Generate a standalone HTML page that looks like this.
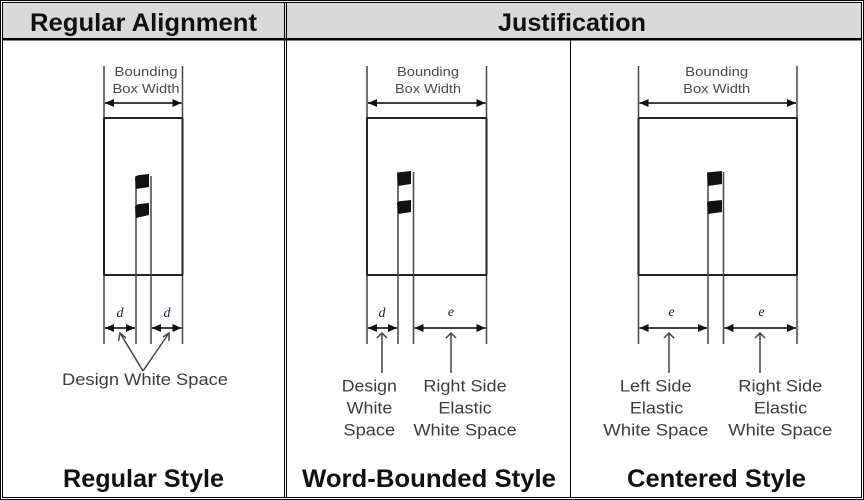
<!DOCTYPE html>
<html>
<head>
<meta charset="utf-8">
<style>
html,body{margin:0;padding:0;background:#fff;}
svg{display:block;}
.h{font-family:"Liberation Sans",Arial,sans-serif;font-weight:bold;font-size:25px;fill:#111;}
.b{font-family:"Liberation Sans",Arial,sans-serif;font-size:13px;fill:#4a4a4a;}
.l{font-family:"Liberation Sans",Arial,sans-serif;font-size:16.5px;fill:#3c3c3c;}
.v{font-family:"Liberation Serif","Times New Roman",serif;font-style:italic;font-size:14px;fill:#1a1a3a;}
.bd{stroke:#444;stroke-width:1.5;fill:none;}
.bx{stroke:#222;stroke-width:2;fill:none;}
.ar{stroke:#222;stroke-width:1.8;fill:none;}
.pt{stroke:#444;stroke-width:1.5;fill:none;}
</style>
</head>
<body>
<svg width="864" height="500" viewBox="0 0 864 500" xmlns="http://www.w3.org/2000/svg">
<defs>
  <marker id="ah" viewBox="0 0 10 10" refX="10" refY="5" markerWidth="9" markerHeight="8" orient="auto-start-reverse" markerUnits="userSpaceOnUse" preserveAspectRatio="none">
    <path d="M0,0 L10,5 L0,10 z" fill="#111"/>
  </marker>
</defs>
<rect x="0" y="0" width="864" height="500" fill="#fff"/>
<!-- header background -->
<rect x="3" y="3" width="858" height="35" fill="#d9d9d9"/>
<!-- outer double border -->
<rect x="0.5" y="0.5" width="863" height="499" fill="none" stroke="#000" stroke-width="1"/>
<rect x="2.5" y="2.5" width="859" height="495" fill="none" stroke="#000" stroke-width="1"/>
<!-- header bottom -->
<rect x="2" y="38" width="860" height="2.5" fill="#000"/>
<!-- column dividers -->
<line x1="284.5" y1="2" x2="284.5" y2="498" stroke="#000" stroke-width="1"/>
<line x1="286.5" y1="2" x2="286.5" y2="498" stroke="#000" stroke-width="1"/>
<line x1="570.5" y1="40" x2="570.5" y2="498" stroke="#000" stroke-width="1"/>

<!-- headers -->
<text class="h" x="143.5" y="31" text-anchor="middle" textLength="227" lengthAdjust="spacingAndGlyphs">Regular Alignment</text>
<text class="h" x="572" y="31" text-anchor="middle" textLength="148" lengthAdjust="spacingAndGlyphs">Justification</text>

<!-- footers -->
<text class="h" x="143.5" y="487" text-anchor="middle" textLength="161" lengthAdjust="spacingAndGlyphs">Regular Style</text>
<text class="h" x="429" y="487" text-anchor="middle" textLength="254" lengthAdjust="spacingAndGlyphs">Word-Bounded Style</text>
<text class="h" x="716.5" y="487" text-anchor="middle" textLength="179" lengthAdjust="spacingAndGlyphs">Centered Style</text>

<!-- ============ PANEL 1 ============ -->
<line class="bd" x1="104" y1="66" x2="104" y2="344"/>
<line class="bd" x1="182.5" y1="66" x2="182.5" y2="344"/>
<line class="bx" x1="103.5" y1="118" x2="183" y2="118"/>
<line class="bx" x1="103.5" y1="275" x2="183" y2="275"/>
<line class="bx" x1="104" y1="118" x2="104" y2="275"/>
<line class="bx" x1="182.5" y1="118" x2="182.5" y2="275"/>
<line class="bd" x1="136" y1="176" x2="136" y2="344"/>
<line class="bd" x1="151" y1="176" x2="151" y2="344"/>
<path d="M135,178 Q136,175 140,175 L149,174 L149,187 L136,189 Z" fill="#111"/>
<path d="M135,207 Q136,204 140,204 L149,203 L149,215 L136,218 Z" fill="#111"/>
<text class="b" x="146" y="76" text-anchor="middle" textLength="63" lengthAdjust="spacingAndGlyphs">Bounding</text>
<text class="b" x="146" y="93" text-anchor="middle" textLength="67" lengthAdjust="spacingAndGlyphs">Box Width</text>
<line class="ar" x1="105" y1="103" x2="181.5" y2="103" marker-start="url(#ah)" marker-end="url(#ah)"/>
<text class="v" x="120" y="317" text-anchor="middle">d</text>
<text class="v" x="167" y="317" text-anchor="middle">d</text>
<line class="ar" x1="105" y1="328" x2="135" y2="328" marker-start="url(#ah)" marker-end="url(#ah)"/>
<line class="ar" x1="152" y1="328" x2="181.5" y2="328" marker-start="url(#ah)" marker-end="url(#ah)"/>
<path class="pt" d="M143,371 L120,333 M143,371 L169,333"/>
<path class="pt" d="M118.5,341 L120,333 L126,338"/>
<path class="pt" d="M163,337 L169,333 L169,341"/>
<text class="l" x="145" y="385" text-anchor="middle" textLength="166" lengthAdjust="spacingAndGlyphs">Design White Space</text>

<!-- ============ PANEL 2 ============ -->
<line class="bd" x1="367" y1="66" x2="367" y2="344"/>
<line class="bd" x1="486.5" y1="66" x2="486.5" y2="344"/>
<line class="bx" x1="366.5" y1="118" x2="487" y2="118"/>
<line class="bx" x1="366.5" y1="275" x2="487" y2="275"/>
<line class="bx" x1="367" y1="118" x2="367" y2="275"/>
<line class="bx" x1="486.5" y1="118" x2="486.5" y2="275"/>
<line class="bd" x1="398" y1="172" x2="398" y2="344"/>
<line class="bd" x1="413.5" y1="172" x2="413.5" y2="344"/>
<path d="M397,174 Q398,172 402,172 L411,171 L411,184 L398,186 Z" fill="#111"/>
<path d="M397,203 Q398,201 402,201 L411,200 L411,212 L398,214 Z" fill="#111"/>
<text class="b" x="428" y="76" text-anchor="middle" textLength="62" lengthAdjust="spacingAndGlyphs">Bounding</text>
<text class="b" x="428" y="93" text-anchor="middle" textLength="66" lengthAdjust="spacingAndGlyphs">Box Width</text>
<line class="ar" x1="368" y1="103" x2="485.5" y2="103" marker-start="url(#ah)" marker-end="url(#ah)"/>
<text class="v" x="382" y="317" text-anchor="middle">d</text>
<text class="v" x="451" y="316" text-anchor="middle">e</text>
<line class="ar" x1="368" y1="328" x2="397" y2="328" marker-start="url(#ah)" marker-end="url(#ah)"/>
<line class="ar" x1="414.5" y1="328" x2="485.5" y2="328" marker-start="url(#ah)" marker-end="url(#ah)"/>
<path class="pt" d="M382,373 L382,333 M377,338 L382,333 L387,338"/>
<path class="pt" d="M451,373 L451,333 M446,338 L451,333 L456,338"/>
<text class="l" x="369.3" y="391.7" text-anchor="middle" textLength="55" lengthAdjust="spacingAndGlyphs">Design</text>
<text class="l" x="369.5" y="413.3" text-anchor="middle" textLength="45.7" lengthAdjust="spacingAndGlyphs">White</text>
<text class="l" x="369.3" y="435.7" text-anchor="middle" textLength="51.7" lengthAdjust="spacingAndGlyphs">Space</text>
<text class="l" x="465" y="391.7" text-anchor="middle" textLength="83.3" lengthAdjust="spacingAndGlyphs">Right Side</text>
<text class="l" x="465" y="413.3" text-anchor="middle" textLength="53.3" lengthAdjust="spacingAndGlyphs">Elastic</text>
<text class="l" x="465" y="435.7" text-anchor="middle" textLength="103.3" lengthAdjust="spacingAndGlyphs">White Space</text>

<!-- ============ PANEL 3 ============ -->
<line class="bd" x1="638.5" y1="66" x2="638.5" y2="344"/>
<line class="bd" x1="797" y1="66" x2="797" y2="344"/>
<line class="bx" x1="638" y1="118" x2="797.5" y2="118"/>
<line class="bx" x1="638" y1="275" x2="797.5" y2="275"/>
<line class="bx" x1="638.5" y1="118" x2="638.5" y2="275"/>
<line class="bx" x1="797" y1="118" x2="797" y2="275"/>
<line class="bd" x1="708" y1="172" x2="708" y2="344"/>
<line class="bd" x1="723.5" y1="172" x2="723.5" y2="344"/>
<path d="M707,174 Q708,172 712,172 L722,171 L722,184 L708,186 Z" fill="#111"/>
<path d="M707,203 Q708,201 712,201 L722,200 L722,212 L708,214 Z" fill="#111"/>
<text class="b" x="716.7" y="76" text-anchor="middle" textLength="63" lengthAdjust="spacingAndGlyphs">Bounding</text>
<text class="b" x="716.7" y="93" text-anchor="middle" textLength="67" lengthAdjust="spacingAndGlyphs">Box Width</text>
<line class="ar" x1="639.5" y1="103" x2="796" y2="103" marker-start="url(#ah)" marker-end="url(#ah)"/>
<text class="v" x="671.5" y="316" text-anchor="middle">e</text>
<text class="v" x="761.5" y="316" text-anchor="middle">e</text>
<line class="ar" x1="639.5" y1="328" x2="707" y2="328" marker-start="url(#ah)" marker-end="url(#ah)"/>
<line class="ar" x1="724.5" y1="328" x2="796" y2="328" marker-start="url(#ah)" marker-end="url(#ah)"/>
<path class="pt" d="M669,373 L669,333 M664,338 L669,333 L674,338"/>
<path class="pt" d="M760,373 L760,333 M755,338 L760,333 L765,338"/>
<text class="l" x="655.8" y="391.7" text-anchor="middle" textLength="71.7" lengthAdjust="spacingAndGlyphs">Left Side</text>
<text class="l" x="656.5" y="413.3" text-anchor="middle" textLength="53.3" lengthAdjust="spacingAndGlyphs">Elastic</text>
<text class="l" x="655.8" y="435.7" text-anchor="middle" textLength="105" lengthAdjust="spacingAndGlyphs">White Space</text>
<text class="l" x="780.3" y="391.7" text-anchor="middle" textLength="84" lengthAdjust="spacingAndGlyphs">Right Side</text>
<text class="l" x="780.5" y="413.3" text-anchor="middle" textLength="53.3" lengthAdjust="spacingAndGlyphs">Elastic</text>
<text class="l" x="780.3" y="435.7" text-anchor="middle" textLength="104" lengthAdjust="spacingAndGlyphs">White Space</text>
</svg>
</body>
</html>
